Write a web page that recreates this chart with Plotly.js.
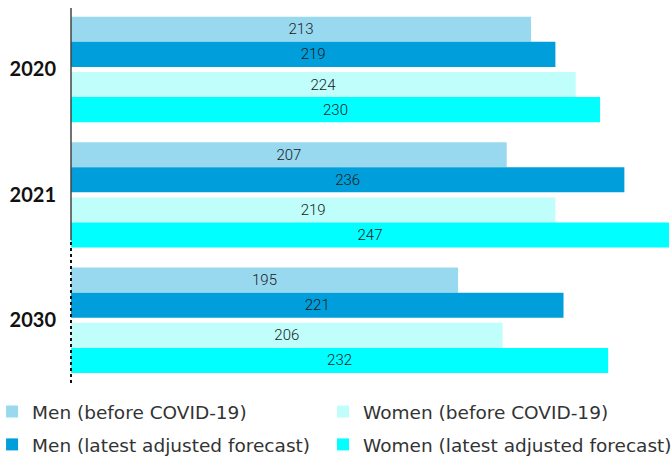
<!DOCTYPE html>
<html>
<head>
<meta charset="utf-8">
<script src="https://cdn.plot.ly/plotly-3.0.1.min.js"></script>
<style>html,body{margin:0;padding:0;background:#fff}#chart{width:671px;height:456px}</style>
</head>
<body>
<div id="chart"></div>
<script>
const years = ['2020', '2021', '2030'];
const seriesNames = ['Men (before COVID-19)', 'Men (latest adjusted forecast)', 'Women (before COVID-19)', 'Women (latest adjusted forecast)'];
const menBefore = [213, 207, 195];
const menLatest = [219, 236, 221];
const womenBefore = [224, 219, 206];
const womenLatest = [230, 247, 232];

const axisMin = 99.6;
const axisMax = 247;
const colors = ['#99D9F0', '#009EDA', '#C0FEFC', '#00FFFF'];
const offsets = [-0.42, -0.22, 0.02, 0.22];
const legendIds = ['legend', 'legend2', 'legend3', 'legend4'];
const values = [menBefore, menLatest, womenBefore, womenLatest];

const traces = values.map((v, i) => ({
  type: 'bar',
  orientation: 'h',
  name: seriesNames[i],
  legend: legendIds[i],
  y: years,
  base: axisMin,
  x: v.map(d => d - axisMin),
  text: v.map(String),
  textposition: 'inside',
  insidetextanchor: 'middle',
  textangle: 0,
  constraintext: 'none',
  textfont: {family: 'Roboto, sans-serif', size: 15, color: '#1a1a1a', weight: 300},
  marker: {color: colors[i], line: {width: 0}},
  offset: offsets[i],
  width: 0.2,
  hoverinfo: 'skip'
}));

const legendBase = {orientation: 'h', xanchor: 'left', yanchor: 'middle',
  font: {family: '"DejaVu Sans", sans-serif', size: 18.5, color: '#333'},
  itemclick: false, bgcolor: 'rgba(0,0,0,0)'};
const colX = [-0.132, 0.4214];
const rowY = [-0.0773, -0.165];

const layout = {
  width: 671, height: 456,
  margin: {l: 71, r: 2, t: 8, b: 73, autoexpand: false},
  paper_bgcolor: '#fff', plot_bgcolor: '#fff',
  barmode: 'overlay',
  showlegend: true,
  xaxis: {range: [axisMin, axisMax], showgrid: false, zeroline: false, showticklabels: false, showline: false, ticks: ''},
  yaxis: {type: 'category', categoryarray: years, range: [2.5, -0.49], showgrid: false, zeroline: false, showline: false, ticks: '',
          ticklabelstandoff: 14, automargin: false,
          tickfont: {family: 'Lato, "Noto Sans", sans-serif', size: 20, color: '#111', weight: 'bold'}},
  legend: Object.assign({}, legendBase, {x: colX[0], y: rowY[0]}),
  legend2: Object.assign({}, legendBase, {x: colX[0], y: rowY[1]}),
  legend3: Object.assign({}, legendBase, {x: colX[1], y: rowY[0]}),
  legend4: Object.assign({}, legendBase, {x: colX[1], y: rowY[1]}),
  shapes: [
    {type: 'line', xref: 'paper', yref: 'paper', x0: 0, x1: 0, y0: 0.381, y1: 1, line: {color: '#444', width: 1.5}, layer: 'above'},
    {type: 'line', xref: 'paper', yref: 'paper', x0: 0, x1: 0, y0: 0, y1: 0.381, line: {color: '#111', width: 2, dash: 'dot'}, layer: 'above'}
  ]
};

Plotly.newPlot('chart', traces, layout, {displayModeBar: false, staticPlot: true});
</script>
</body>
</html>
